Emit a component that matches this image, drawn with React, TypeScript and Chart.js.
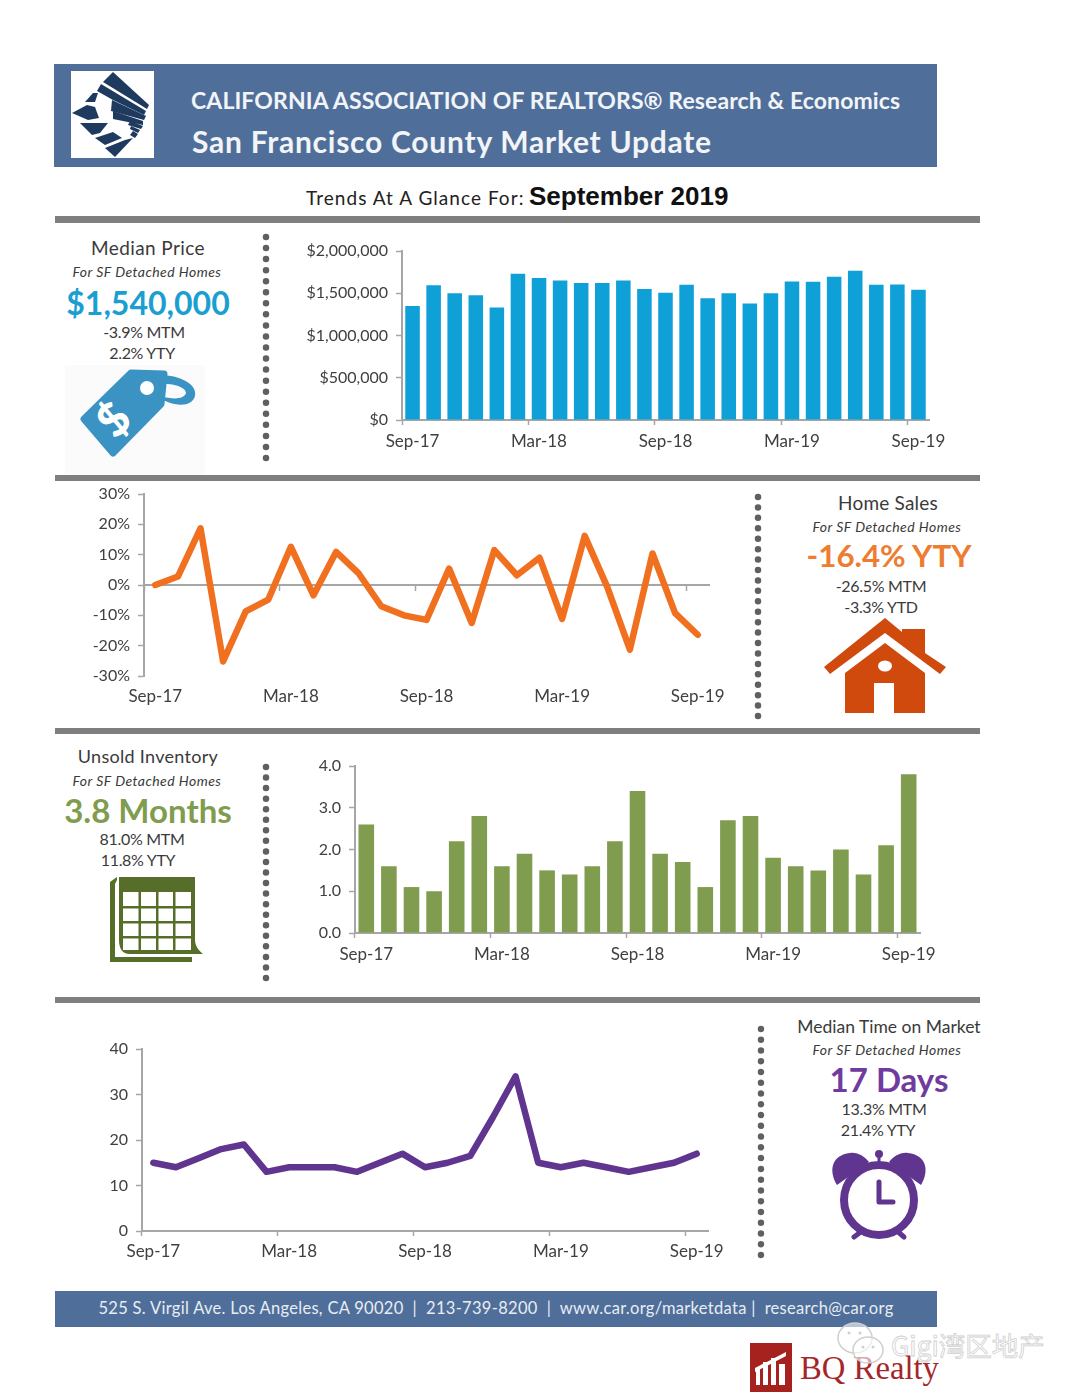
import React, { useEffect, useRef } from "react";
import { Chart, registerables } from "chart.js";

Chart.register(...registerables);

const FONT = "Lato, 'Open Sans', sans-serif";
const TICK_COLOR = "#404040";
const AXIS_COLOR = "#a6a6a6";

const months = [
  "Sep-17","Oct-17","Nov-17","Dec-17","Jan-18","Feb-18","Mar-18","Apr-18","May-18","Jun-18","Jul-18","Aug-18",
  "Sep-18","Oct-18","Nov-18","Dec-18","Jan-19","Feb-19","Mar-19","Apr-19","May-19","Jun-19","Jul-19","Aug-19","Sep-19",
];
const medianPrice = [1350000,1595000,1500000,1475000,1330000,1730000,1680000,1650000,1620000,1620000,1650000,1550000,1505000,1600000,1440000,1500000,1380000,1500000,1640000,1635000,1695000,1765000,1600000,1605000,1540000];
const homeSales = [0,2.8,18.7,-25.2,-8.7,-4.8,12.6,-3.4,10.9,3.8,-7,-10,-11.5,5.4,-12.5,11.5,3.2,9,-11.2,16.2,-0.7,-21.3,10.4,-9.3,-16.4];
const unsoldInventory = [2.6,1.6,1.1,1.0,2.2,2.8,1.6,1.9,1.5,1.4,1.6,2.2,3.4,1.9,1.7,1.1,2.7,2.8,1.8,1.6,1.5,2.0,1.4,2.1,3.8];
const timeOnMarket = [15,14,16,18,19,13,14,14,14,13,15,17,14,15,16.5,25,34,15,14,15,14,13,14,15,17];

type Box = { left: number; top: number; width: number; height: number };

function xLabel(this: any, _v: any, i: number) {
  return i % 6 === 0 ? months[i] : "";
}
const sixth = (c: any) => (c.index !== undefined && c.index % 6 === 0 ? AXIS_COLOR : "rgba(0,0,0,0)");

function useChart(make: () => any) {
  const ref = useRef<HTMLCanvasElement>(null);
  useEffect(() => {
    const chart = new Chart(ref.current as HTMLCanvasElement, make());
    return () => chart.destroy();
  }, []);
  return ref;
}

function baseOptions(opts: {
  yw: number; xh: number; top: number; right: number; xpad: number;
  min: number; max: number; step: number; fmt: (v: number) => string;
  zeroAxis?: boolean;
}) {
  const xFont = { family: FONT, size: 17 };
  const yFont = { family: FONT, size: 16 };
  const scales: any = {
    x: {
      offset: true,
      afterFit: (s: any) => { s.height = opts.xh; },
      border: opts.zeroAxis ? { display: false } : { color: AXIS_COLOR, width: 2 },
      grid: opts.zeroAxis
        ? { display: false }
        : { offset: true, drawOnChartArea: false, tickLength: 5, tickWidth: 1.5, tickColor: sixth },
      ticks: { autoSkip: false, maxRotation: 0, minRotation: 0, padding: opts.xpad, color: TICK_COLOR, font: xFont, callback: xLabel },
    },
    y: {
      min: opts.min, max: opts.max,
      afterFit: (s: any) => { s.width = opts.yw; },
      border: { color: AXIS_COLOR, width: 2 },
      grid: { drawOnChartArea: false, tickLength: 6, tickWidth: 1.5, tickColor: AXIS_COLOR },
      ticks: { stepSize: opts.step, padding: 8, color: TICK_COLOR, font: yFont, callback: (v: any) => opts.fmt(Number(v)) },
    },
  };
  if (opts.zeroAxis) {
    scales.x2 = {
      type: "category", axis: "x", position: { y: 0 }, offset: true,
      border: { color: AXIS_COLOR, width: 2 },
      grid: { offset: true, drawOnChartArea: false, tickLength: 5, tickWidth: 1.5, tickColor: sixth },
      ticks: { display: false, autoSkip: false },
    };
  }
  return {
    animation: false as const,
    responsive: false,
    maintainAspectRatio: false,
    layout: { padding: { top: opts.top, right: opts.right, left: 0, bottom: 0 } },
    plugins: { legend: { display: false }, tooltip: { enabled: false }, title: { display: false } },
    scales,
  };
}

function ChartBox({ box, make }: { box: Box; make: () => any }) {
  const ref = useChart(make);
  return (
    <canvas
      ref={ref}
      width={box.width}
      height={box.height}
      style={{ position: "absolute", left: box.left, top: box.top, width: box.width, height: box.height }}
    />
  );
}

function Txt({ x, y, size, children, color = "#3a3a3a", weight = 400, italic = false, family = FONT, spacing = 0, align = "center" }: any) {
  return (
    <div
      style={{
        position: "absolute", left: x, top: y, whiteSpace: "nowrap", color, fontSize: size, fontWeight: weight,
        fontStyle: italic ? "italic" : "normal", fontFamily: family, letterSpacing: spacing, lineHeight: 1,
        transform: align === "center" ? "translate(-50%,-50%)" : "translateY(-50%)",
      }}
    >
      {children}
    </div>
  );
}

function Bar({ x, y, w, h, color }: any) {
  return <div style={{ position: "absolute", left: x, top: y, width: w, height: h, background: color }} />;
}

function Dots({ x, y1, y2, gap }: any) {
  return (
    <svg style={{ position: "absolute", left: x - 5, top: y1 - 5 }} width={10} height={y2 - y1 + 10}>
      <line x1={5} y1={5} x2={5} y2={y2 - y1 + 5.5} stroke="#606060" strokeWidth={6.5} strokeLinecap="round" strokeDasharray={`0 ${gap}`} />
    </svg>
  );
}

function Icons() {
  const blue = "#3a93c3", orange = "#cf4a0c", green = "#566e2a", purple = "#5f3590", navy = "#1f3a5f";
  const cols = [[123, 138.5], [141, 156], [158.5, 173], [175.5, 191]];
  const rows = [[892, 906], [908.5, 921], [923.5, 936], [938.5, 950]];
  return (
    <svg style={{ position: "absolute", left: 0, top: 0 }} width={1080} height={1398}>
      {/* logo */}
      <rect x={71} y={71} width={83} height={87} fill="#fff" />
      <g fill={navy}>
        <polygon points="113,72 149,105 147,109 103,82" />
        <polygon points="101,84 146,111 144,115 113,100 97,91" />
        <polygon points="112,100 146,116 144,120 111,111" />
        <polygon points="113,111 143,121 143,125 113,119" />
        <polygon points="130,121 143,126 141,129 128,125" />
        <polygon points="131,126 140,130 138,133 130,129" />
        <polygon points="133,131 138,134 135,138 130,135" />
        <polygon points="72,113 87,105 95,107 99,118 88,120" />
        <polygon points="85,102 93,93 98,93 95,102" />
        <polygon points="80,123 108,123 100,133 92,135" />
        <polygon points="95,138 113,132 122,138 105,145" />
        <polygon points="105,148 125,140 133,138 115,157" />
      </g>
      {/* tag */}
      <rect x={65} y={365} width={140} height={110} fill="#fbfbfb" />
      <polygon points="84,419 113,453 161,404 164,374 131,373" fill={blue} stroke={blue} strokeWidth={7} strokeLinejoin="round" />
      <path d="M150,376 C172,372 198,382 195,396 C192,408 172,408 153,394 C170,400 184,400 186,393 C186,386 168,382 152,384 Z" fill={blue} />
      <circle cx={147} cy={388} r={7} fill="#fff" />
      <text x={0} y={0} transform="translate(125,431) rotate(-45)" fill="#fff" fontFamily={FONT} fontWeight={900} fontSize={46} textAnchor="middle">$</text>
      {/* house */}
      <g fill={orange}>
        <polygon points="885,618 902,632 902,629 925,629 925,653 946,667 940,674 885,633 830,674 824,667" />
        <polygon points="885,643 925,673 925,713 845,713 845,673" />
        <rect x={874} y={683} width={20} height={30} fill="#fff" />
        <ellipse cx={885} cy={666} rx={7} ry={5.5} fill="#fff" />
      </g>
      {/* calendar */}
      <polygon points="110,882 117,877 117,880 115,884 115,957 192,957 192,962 110,962" fill={green} />
      <path d="M119,877 H195 V940 C195,945 198,950 203,954 H130 C122,954 119,948 119,940 Z" fill={green} />
      <g fill="#fff">
        {rows.flatMap(([y1, y2]) => cols.map(([x1, x2]) => <rect key={`${x1}-${y1}`} x={x1} y={y1} width={x2 - x1} height={y2 - y1} />))}
      </g>
      {/* clock */}
      <g>
        <path d="M837,1185 C828,1170 832,1155 850,1153 C858,1152 865,1157 869,1162 Z" fill={purple} />
        <path d="M921,1185 C930,1170 926,1155 908,1153 C900,1152 893,1157 889,1162 Z" fill={purple} />
        <circle cx={879} cy={1154} r={4} fill={purple} />
        <line x1={879} y1={1154} x2={879} y2={1168} stroke={purple} strokeWidth={3} />
        <line x1={862} y1={1231} x2={854} y2={1237} stroke={purple} strokeWidth={5} strokeLinecap="round" />
        <line x1={897} y1={1231} x2={904} y2={1237} stroke={purple} strokeWidth={5} strokeLinecap="round" />
        <circle cx={879} cy={1200} r={35} fill="#fff" stroke={purple} strokeWidth={8} />
        <path d="M879,1182 V1202 H893" fill="none" stroke={purple} strokeWidth={5} strokeLinecap="round" strokeLinejoin="round" />
      </g>
      {/* BQ logo */}
      <rect x={750} y={1343} width={42} height={49} fill="#a5221f" />
      <g fill="#fff">
        <rect x={756} y={1368} width={4} height={17} />
        <rect x={763} y={1362} width={5} height={23} />
        <rect x={771} y={1358} width={5} height={27} />
        <rect x={779} y={1364} width={6} height={21} />
        <polygon points="755,1368 786,1352 786,1356 755,1372" />
      </g>
    </svg>
  );
}

function Watermark() {
  return (
    <svg style={{ position: "absolute", left: 830, top: 1320 }} width={60} height={50}>
      <ellipse cx={25} cy={18} rx={17} ry={15} fill="rgba(255,255,255,0.6)" stroke="#cfcfcf" strokeWidth={1.5} />
      <ellipse cx={38} cy={30} rx={15} ry={13} fill="rgba(255,255,255,0.6)" stroke="#cfcfcf" strokeWidth={1.5} />
      <circle cx={33} cy={27} r={1.5} fill="#cfcfcf" />
      <circle cx={43} cy={27} r={1.5} fill="#cfcfcf" />
      <circle cx={19} cy={13} r={1.5} fill="#cfcfcf" />
      <circle cx={30} cy={13} r={1.5} fill="#cfcfcf" />
    </svg>
  );
}

export default function App() {
  const barChart = (data: number[], color: string, o: any) => () => ({
    type: "bar",
    data: { labels: months, datasets: [{ data, backgroundColor: color, barPercentage: 0.69, categoryPercentage: 1 }] },
    options: baseOptions(o),
  });
  const lineChart = (data: number[], color: string, o: any) => () => ({
    type: "line",
    data: {
      labels: months,
      datasets: [{ data, borderColor: color, borderWidth: 6.5, pointRadius: 0, tension: 0, fill: false, borderJoinStyle: "round", borderCapStyle: "round" }],
    },
    options: baseOptions(o),
  });
  const money = (v: number) => "$" + v.toLocaleString("en-US");

  return (
    <div style={{ position: "absolute", left: 0, top: 0, width: 1080, height: 1398, background: "#fff", overflow: "hidden" }}>
      <Bar x={54} y={64} w={883} h={103} color="#4f6f9a" />
      <Bar x={55} y={216} w={925} h={7} color="#7f7f7f" />
      <Bar x={55} y={475} w={925} h={6} color="#7f7f7f" />
      <Bar x={55} y={728} w={925} h={6} color="#7f7f7f" />
      <Bar x={55} y={997} w={925} h={6} color="#7f7f7f" />
      <Bar x={55} y={1291} w={882} h={36} color="#4f6f9a" />

      <Icons />

      <Txt x={191} y={100} size={23} weight={700} color="#f2f4f7" align="left" spacing={0.1}>CALIFORNIA ASSOCIATION OF REALTORS® Research &amp; Economics</Txt>
      <Txt x={192} y={141} size={30} weight={700} color="#f2f4f7" align="left" spacing={0.75}>San Francisco County Market Update</Txt>
      <Txt x={306} y={197} size={19} color="#222" align="left" spacing={1.05}>Trends At A Glance For:</Txt>
      <Txt x={529} y={196} size={26} weight={700} color="#111" align="left" family="'Liberation Sans', Arial, sans-serif">September 2019</Txt>

      <Dots x={266} y1={237} y2={458} gap={11.05} />
      <Dots x={758} y1={497} y2={716} gap={10.43} />
      <Dots x={266} y1={767} y2={978} gap={10.55} />
      <Dots x={761} y1={1029} y2={1255} gap={10.76} />

      <Txt x={148} y={247} size={19} spacing={0.4}>Median Price</Txt>
      <Txt x={147} y={272} size={14} italic spacing={0.45}>For SF Detached Homes</Txt>
      <Txt x={148} y={303} size={32} weight={700} color="#1a9fd0">$1,540,000</Txt>
      <Txt x={144} y={332} size={16} spacing={-0.3}>-3.9% MTM</Txt>
      <Txt x={142} y={353} size={16} spacing={-0.3}>2.2% YTY</Txt>

      <Txt x={888} y={502} size={19} spacing={0.2}>Home Sales</Txt>
      <Txt x={887} y={527} size={14} italic spacing={0.45}>For SF Detached Homes</Txt>
      <Txt x={889} y={556} size={31.3} weight={700} color="#ed7d31">-16.4% YTY</Txt>
      <Txt x={881} y={586} size={16} spacing={-0.3}>-26.5% MTM</Txt>
      <Txt x={881} y={607} size={16} spacing={-0.3}>-3.3% YTD</Txt>

      <Txt x={148} y={756} size={18} spacing={0.3}>Unsold Inventory</Txt>
      <Txt x={147} y={781} size={14} italic spacing={0.45}>For SF Detached Homes</Txt>
      <Txt x={148} y={810} size={33} weight={700} color="#7f9c4f">3.8 Months</Txt>
      <Txt x={142} y={839} size={16} spacing={-0.3}>81.0% MTM</Txt>
      <Txt x={138} y={860} size={16} spacing={-0.3}>11.8% YTY</Txt>

      <Txt x={889} y={1027} size={17.5}>Median Time on Market</Txt>
      <Txt x={887} y={1050} size={14} italic spacing={0.45}>For SF Detached Homes</Txt>
      <Txt x={889} y={1079} size={33} weight={700} color="#6f3b9e">17 Days</Txt>
      <Txt x={884} y={1109} size={16} spacing={-0.3}>13.3% MTM</Txt>
      <Txt x={878} y={1130} size={16} spacing={-0.3}>21.4% YTY</Txt>

      <ChartBox box={{ left: 300, top: 233, width: 660, height: 232 }}
        make={barChart(medianPrice, "#10a0d8", { yw: 102, xh: 45, top: 18, right: 31, xpad: 6, min: 0, max: 2000000, step: 500000, fmt: money })} />
      <ChartBox box={{ left: 70, top: 476, width: 669, height: 245 }}
        make={lineChart(homeSales, "#f07020", { yw: 74, xh: 45, top: 18, right: 30, xpad: 2, min: -30, max: 30, step: 10, fmt: (v: number) => v + "%", zeroAxis: true })} />
      <ChartBox box={{ left: 300, top: 748, width: 660, height: 230 }}
        make={barChart(unsoldInventory, "#7f9c4f", { yw: 55, xh: 45, top: 18, right: 40, xpad: 6, min: 0, max: 4, step: 1, fmt: (v: number) => v.toFixed(1) })} />
      <ChartBox box={{ left: 70, top: 1031, width: 668, height: 245 }}
        make={lineChart(timeOnMarket, "#5f3590", { yw: 72, xh: 45, top: 18, right: 30, xpad: 5, min: 0, max: 40, step: 10, fmt: (v: number) => String(v) })} />

      <Txt x={496} y={1308} size={16.5} color="#e8edf3" spacing={0.3}>525 S. Virgil Ave. Los Angeles, CA 90020&nbsp; |&nbsp; 213-739-8200&nbsp; |&nbsp; www.car.org/marketdata |&nbsp; research@car.org</Txt>

      <Txt x={800} y={1368} size={32.7} color="#a5262a" align="left" family="'Liberation Serif', serif">BQ Realty</Txt>
      <Watermark />
      <div style={{ position: "absolute", left: 891, top: 1332, fontSize: 26.5, whiteSpace: "nowrap", lineHeight: 1, color: "rgba(255,255,255,0.5)", WebkitTextStroke: "0.8px #cfcfcf", fontFamily: "'Noto Sans CJK SC', sans-serif" }}>Gigi湾区地产</div>
    </div>
  );
}
